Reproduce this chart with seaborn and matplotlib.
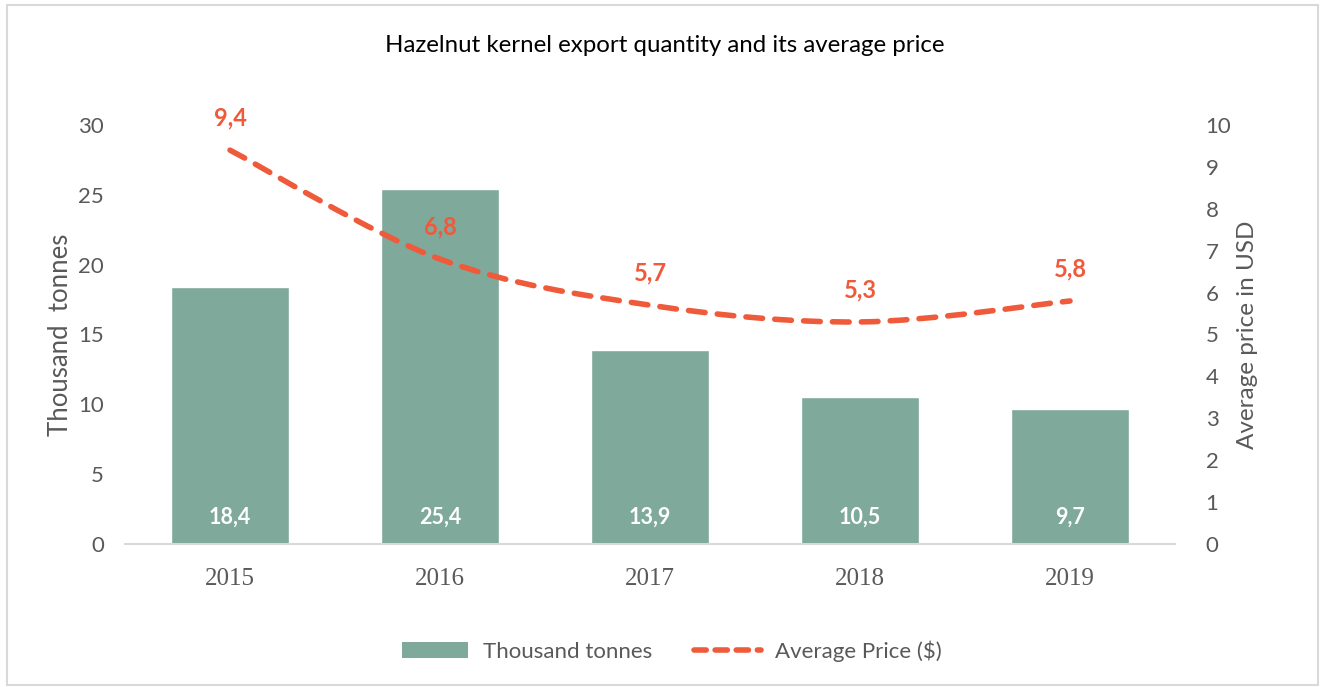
import matplotlib
matplotlib.use("Agg")
import matplotlib.pyplot as plt
import seaborn as sns
import pandas as pd
import numpy as np
from matplotlib.path import Path
from matplotlib.patches import PathPatch, Patch, Rectangle
from matplotlib.lines import Line2D

years = ["2015", "2016", "2017", "2018", "2019"]
quantity = [18.4, 25.4, 13.9, 10.5, 9.7]
price = [9.4, 6.8, 5.7, 5.3, 5.8]
qty_labels = ["18,4", "25,4", "13,9", "10,5", "9,7"]
price_labels = ["9,4", "6,8", "5,7", "5,3", "5,8"]

BAR_C = "#7FA99B"
LINE_C = "#EF5A3A"
TXT_C = "#595959"

sns.set_theme(style="white")
plt.rcParams["font.family"] = ["Lato", "DejaVu Sans"]

df = pd.DataFrame({"year": years, "qty": quantity, "price": price})

fig = plt.figure(figsize=(13.25, 6.87), dpi=100)
ax = fig.add_axes([125/1325, 1-544/687, 1050/1325, 419/687])

sns.barplot(data=df, x="year", y="qty", color=BAR_C, width=0.56, ax=ax,
            saturation=1, zorder=2)
ax.set_xlim(-0.5, 4.5)
ax.set_ylim(0, 30)
ax.set_yticks(range(0, 31, 5))
ax.tick_params(axis="y", labelsize=16, colors=TXT_C, length=0, pad=15)
ax.tick_params(axis="x", length=0, pad=17)
for lbl in ax.get_xticklabels():
    lbl.set_fontfamily("Liberation Serif")
    lbl.set_fontsize(18)
    lbl.set_color(TXT_C)
ax.set_xlabel("")
ax.set_ylabel("Thousand  tonnes", fontsize=18.5, color=TXT_C, labelpad=4)
for s in ["top", "right", "left"]:
    ax.spines[s].set_visible(False)
ax.spines["bottom"].set_color("#D9D9D9")
ax.spines["bottom"].set_linewidth(1.5)

for i, t in enumerate(qty_labels):
    ax.annotate(t, (i, 0), xytext=(0, 19), textcoords="offset points",
                ha="center", va="center", color="white", fontsize=15.5,
                fontweight="bold")

ax2 = ax.twinx()
ax2.set_ylim(0, 10)
ax2.set_yticks(range(0, 11))
ax2.tick_params(axis="y", labelsize=16, colors=TXT_C, length=0, pad=22)
ax2.set_ylabel("Average price in USD", fontsize=17.5, color=TXT_C, labelpad=4)
for s in ["top", "right", "left", "bottom"]:
    ax2.spines[s].set_visible(False)

# smoothed line (Catmull-Rom -> cubic Bezier) through the data points
xs = np.arange(len(price), dtype=float)
ys = np.array(price, dtype=float)
verts = [(xs[0], ys[0])]
codes = [Path.MOVETO]
t = 1/6
for i in range(len(xs) - 1):
    p0 = (xs[max(i-1, 0)], ys[max(i-1, 0)])
    p1 = (xs[i], ys[i])
    p2 = (xs[i+1], ys[i+1])
    p3 = (xs[min(i+2, len(xs)-1)], ys[min(i+2, len(xs)-1)])
    c1 = (p1[0] + (p2[0]-p0[0])*t, p1[1] + (p2[1]-p0[1])*t)
    c2 = (p2[0] - (p3[0]-p1[0])*t, p2[1] - (p3[1]-p1[1])*t)
    verts += [c1, c2, p2]
    codes += [Path.CURVE4]*3
patch = PathPatch(Path(verts, codes), facecolor="none", edgecolor=LINE_C,
                  lw=4, linestyle=(0, (3, 2.2)), capstyle="round", zorder=3)
ax2.add_patch(patch)

for i, t_ in enumerate(price_labels):
    ax2.annotate(t_, (i, price[i]), xytext=(0, 23), textcoords="offset points",
                 ha="center", va="center", color=LINE_C, fontsize=17,
                 fontweight="bold")

handles = [Patch(facecolor=BAR_C, edgecolor="none"),
           Line2D([0], [0], color=LINE_C, lw=4, linestyle=(0, (2.2, 1.6)),
                  dash_capstyle="round")]
leg = fig.legend(handles, ["Thousand tonnes", "Average Price ($)"],
                 loc="center", bbox_to_anchor=(672/1325, 1-651/687), ncol=2,
                 frameon=False, fontsize=16, handlelength=3.0,
                 columnspacing=1.9, handletextpad=0.65)
for txt in leg.get_texts():
    txt.set_color(TXT_C)

fig.text(665/1325, 1-45/687, "Hazelnut kernel export quantity and its average price",
         ha="center", va="center", fontsize=17.3, color="black")

fig.patches.append(Rectangle((7/1325, 2/687), 1311/1325, 680/687,
                             transform=fig.transFigure, fill=False,
                             edgecolor="#D9D9D9", lw=1.5))

fig.savefig("out.png", dpi=100)
